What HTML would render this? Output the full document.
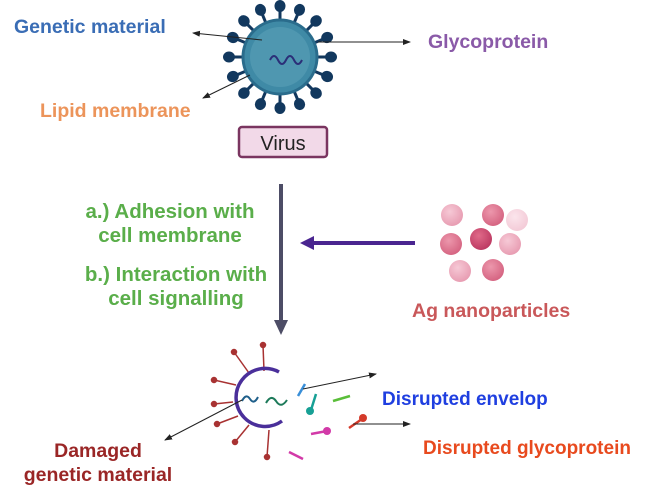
<!DOCTYPE html>
<html><head><style>html,body{margin:0;padding:0;background:#fff;}svg{display:block}text{font-family:"Liberation Sans",sans-serif;font-weight:bold;}</style></head>
<body>
<svg width="645" height="490" viewBox="0 0 645 490" xmlns="http://www.w3.org/2000/svg">
<defs>
<marker id="a" markerWidth="8" markerHeight="8" refX="7" refY="4" orient="auto" markerUnits="userSpaceOnUse"><path d="M0,1 L8,4 L0,7 z" fill="#222"/></marker>
<radialGradient id="p1" cx="0.4" cy="0.35" r="0.7"><stop offset="0" stop-color="#f6c9d6"/><stop offset="1" stop-color="#e79ab0"/></radialGradient>
<radialGradient id="p2" cx="0.4" cy="0.35" r="0.7"><stop offset="0" stop-color="#ec97ac"/><stop offset="1" stop-color="#d4617f"/></radialGradient>
<radialGradient id="p3" cx="0.4" cy="0.35" r="0.7"><stop offset="0" stop-color="#e06a89"/><stop offset="1" stop-color="#bb3760"/></radialGradient>
<radialGradient id="p4" cx="0.4" cy="0.35" r="0.7"><stop offset="0" stop-color="#fbe5ec"/><stop offset="1" stop-color="#f3c9d6"/></radialGradient>
</defs>
<g transform="translate(280,57)" stroke="#12385e" fill="#12385e">
<g id="sp">
<line x1="0" y1="-36" x2="0" y2="-47" stroke-width="3"/><ellipse cx="0" cy="-51" rx="5" ry="5.5"/>
</g>
<use href="#sp" transform="rotate(22.5)"/><use href="#sp" transform="rotate(45)"/><use href="#sp" transform="rotate(67.5)"/>
<use href="#sp" transform="rotate(90)"/><use href="#sp" transform="rotate(112.5)"/><use href="#sp" transform="rotate(135)"/>
<use href="#sp" transform="rotate(157.5)"/><use href="#sp" transform="rotate(180)"/><use href="#sp" transform="rotate(202.5)"/>
<use href="#sp" transform="rotate(225)"/><use href="#sp" transform="rotate(247.5)"/><use href="#sp" transform="rotate(270)"/>
<use href="#sp" transform="rotate(292.5)"/><use href="#sp" transform="rotate(315)"/><use href="#sp" transform="rotate(337.5)"/>
<circle r="37" fill="#3f8aa6" stroke="#2a6c8c" stroke-width="3"/>
<circle r="30" fill="#5aa0b8" stroke="none" opacity="0.6"/>
<path d="M-10,3 q4,-8 8,0 q4,8 8,0 q4,-8 8,0 q4,8 8,0" fill="none" stroke="#2b2f78" stroke-width="2"/>
</g>
<line x1="262" y1="40" x2="193" y2="33" stroke="#222" stroke-width="1" marker-end="url(#a)"/>
<line x1="318" y1="42" x2="410" y2="42" stroke="#222" stroke-width="1" marker-end="url(#a)"/>
<line x1="250" y1="75" x2="203" y2="98" stroke="#222" stroke-width="1" marker-end="url(#a)"/>
<text x="14" y="33" font-size="19.5" fill="#3a6db5">Genetic material</text>
<text x="428" y="48" font-size="19.5" fill="#8a5aa8">Glycoprotein</text>
<text x="40" y="117" font-size="19.5" fill="#ec945a">Lipid membrane</text>
<rect x="239" y="127" width="88" height="30" rx="3" fill="#f2d9e8" stroke="#7a3560" stroke-width="2.5"/>
<text x="283" y="150" font-size="20" style="font-weight:normal" text-anchor="middle" fill="#222">Virus</text>
<line x1="281" y1="184" x2="281" y2="322" stroke="#4d4d66" stroke-width="4"/>
<path d="M274,320 L288,320 L281,335 z" fill="#4d4d66"/>
<line x1="415" y1="243" x2="312" y2="243" stroke="#4a2590" stroke-width="4"/>
<path d="M314,236 L300,243 L314,250 z" fill="#4a2590"/>
<g font-size="20.5" fill="#5aae4a" text-anchor="middle">
<text x="170" y="218">a.) Adhesion with</text>
<text x="170" y="242">cell membrane</text>
<text x="176" y="281">b.) Interaction with</text>
<text x="176" y="305">cell signalling</text>
</g>
<circle cx="452" cy="215" r="11" fill="url(#p1)"/>
<circle cx="493" cy="215" r="11" fill="url(#p2)"/>
<circle cx="517" cy="220" r="11" fill="url(#p4)"/>
<circle cx="481" cy="239" r="11" fill="url(#p3)"/>
<circle cx="451" cy="244" r="11" fill="url(#p2)"/>
<circle cx="510" cy="244" r="11" fill="url(#p1)"/>
<circle cx="460" cy="271" r="11" fill="url(#p1)"/>
<circle cx="493" cy="270" r="11" fill="url(#p2)"/>
<text x="412" y="317" font-size="19.5" fill="#c9585a">Ag nanoparticles</text>
<g stroke="#a83232" stroke-width="1.5" fill="#a83232">
<line x1="264" y1="371" x2="263" y2="345"/><circle cx="263" cy="345" r="2.5"/>
<line x1="249" y1="373" x2="234" y2="352"/><circle cx="234" cy="352" r="2.5"/>
<line x1="236" y1="385" x2="214" y2="380"/><circle cx="214" cy="380" r="2.5"/>
<line x1="233" y1="402" x2="214" y2="404"/><circle cx="214" cy="404" r="2.5"/>
<line x1="238" y1="416" x2="217" y2="424"/><circle cx="217" cy="424" r="2.5"/>
<line x1="249" y1="425" x2="235" y2="442"/><circle cx="235" cy="442" r="2.5"/>
<line x1="269" y1="430" x2="267" y2="457"/><circle cx="267" cy="457" r="2.5"/>
</g>
<path d="M279,372 A29,29 0 1,0 282,421" fill="none" stroke="#4a2f9a" stroke-width="3.5"/>
<path d="M242,401 q4,-8 8,-2 q4,6 8,-2" fill="none" stroke="#1f5f8a" stroke-width="2"/>
<path d="M266,403 q5,-9 10,-2 q5,8 11,-1" fill="none" stroke="#1d7a5a" stroke-width="2"/>
<line x1="305" y1="384" x2="298" y2="396" stroke="#3a8fd8" stroke-width="2.5"/>
<line x1="316" y1="394" x2="311" y2="410" stroke="#17a095" stroke-width="2.5"/><circle cx="310" cy="411" r="4" fill="#17a095"/>
<line x1="333" y1="401" x2="350" y2="396" stroke="#5abe3a" stroke-width="2.5"/>
<line x1="311" y1="434" x2="327" y2="431" stroke="#d23aa8" stroke-width="2.5"/><circle cx="327" cy="431" r="4" fill="#d23aa8"/>
<line x1="289" y1="452" x2="303" y2="459" stroke="#d23aa8" stroke-width="2.5"/>
<line x1="349" y1="428" x2="362" y2="419" stroke="#d43a2a" stroke-width="2.5"/><circle cx="363" cy="418" r="4" fill="#d43a2a"/>
<line x1="303" y1="389" x2="376" y2="374" stroke="#222" stroke-width="1" marker-end="url(#a)"/>
<line x1="353" y1="424" x2="410" y2="424" stroke="#222" stroke-width="1" marker-end="url(#a)"/>
<line x1="242" y1="400" x2="165" y2="440" stroke="#222" stroke-width="1" marker-end="url(#a)"/>
<text x="382" y="405" font-size="19" fill="#1f3fe0">Disrupted envelop</text>
<text x="423" y="454" font-size="19" fill="#e84a1e">Disrupted glycoprotein</text>
<text x="98" y="457" font-size="19.5" fill="#9a2626" text-anchor="middle">Damaged</text>
<text x="98" y="481" font-size="19.5" fill="#9a2626" text-anchor="middle">genetic material</text>
</svg>
</body></html>
